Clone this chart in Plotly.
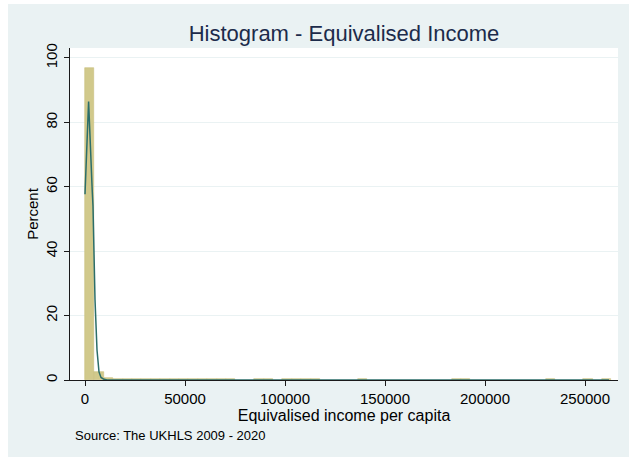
import plotly.graph_objects as go

# ---- data ----
bin_width = 4700
bin_start = [0, 4700, 9400, 14100, 18800, 23500, 28200, 32900, 37600, 42300, 47000,
             51700, 56400, 61100, 65800, 70500, 84600, 89300, 98700, 103400, 108100,
             112800, 136300, 183300, 188000, 230300, 249100, 258500]
percent = [97.0, 2.6, 0.5, 0.45, 0.45, 0.4, 0.4, 0.4, 0.4, 0.4, 0.4,
           0.4, 0.4, 0.4, 0.4, 0.4, 0.4, 0.4, 0.4, 0.4, 0.4,
           0.4, 0.4, 0.4, 0.4, 0.4, 0.4, 0.4]

kde_x = [0, 1800, 3600, 4000, 5000, 6000, 7000, 8000, 9500, 11000, 262000]
kde_y = [57.7, 86.5, 59.0, 54.0, 25.0, 9.3, 2.5, 0.8, 0.2, 0.03, 0.0]

x_ticks = [0, 50000, 100000, 150000, 200000, 250000]
y_ticks = [0, 20, 40, 60, 80, 100]

title = "Histogram - Equivalised Income"
x_title = "Equivalised income per capita"
y_title = "Percent"
source = "Source: The UKHLS 2009 - 2020"

BG = "#EAF2F3"
BAR = "#D1C98B"
LINE = "#2C6E6A"
AXIS = "#1a1a1a"
FONT = "Liberation Sans, Arial, sans-serif"

fig = go.Figure()
fig.add_trace(go.Bar(
    x=[s + bin_width / 2 for s in bin_start], y=percent, width=bin_width,
    marker=dict(color=BAR, line=dict(color="#C9C07E", width=0.6)),
    showlegend=False, hoverinfo="skip"))
fig.add_trace(go.Scatter(
    x=kde_x, y=kde_y, mode="lines", line=dict(color=LINE, width=1.5),
    showlegend=False, hoverinfo="skip"))

W, H = 629, 457
L, R, T, B = 70, 11, 48, 77
pw = W - L - R
ph = H - T - B

def px(xp):
    return (xp - L) / pw

def py(yp):
    return (H - B - yp) / ph

shapes = [
    dict(type="rect", xref="paper", yref="paper", x0=px(-5), x1=px(8), y0=py(H + 5), y1=py(-5),
         fillcolor="white", line=dict(width=0), layer="below"),
    dict(type="rect", xref="paper", yref="paper", x0=px(-5), x1=px(W + 5), y0=py(4), y1=py(-5),
         fillcolor="white", line=dict(width=0), layer="below"),
]

fig.update_layout(
    width=W, height=H,
    margin=dict(l=L, r=R, t=T, b=B, pad=0),
    paper_bgcolor=BG, plot_bgcolor="white",
    font=dict(family=FONT, color="#000000", size=15),
    bargap=0,
    shapes=shapes,
    title=dict(text=title, xref="paper", x=0.5, xanchor="center",
               yref="container", y=1 - 33 / H, yanchor="middle",
               font=dict(size=22, color="#1C2B4B", family=FONT)),
    xaxis=dict(range=[-7500, 266500], tickvals=x_ticks, ticktext=[str(v) for v in x_ticks],
               showgrid=False, zeroline=False, showline=True, linecolor=AXIS, linewidth=1,
               ticks="outside", ticklen=5, tickcolor=AXIS,
               tickfont=dict(size=15, color="#000000"),
               title=dict(text=x_title, standoff=0, font=dict(size=16, color="#000000"))),
    yaxis=dict(range=[0, 103.1], tickvals=y_ticks, ticktext=[str(v) for v in y_ticks],
               showgrid=True, gridcolor=BG, gridwidth=1, zeroline=False,
               showline=True, linecolor=AXIS, linewidth=1,
               ticks="outside", ticklen=5, tickcolor=AXIS, tickangle=-90,
               ticklabelstandoff=1,
               tickfont=dict(size=15, color="#000000"),
               title=dict(text=y_title, standoff=0, font=dict(size=15, color="#000000"))),
    annotations=[dict(text=source, xref="paper", yref="paper", x=px(73), y=py(436),
                      xanchor="left", yanchor="middle", showarrow=False,
                      font=dict(size=13, color="#000000", family=FONT))],
)

fig.write_html("out.html")
